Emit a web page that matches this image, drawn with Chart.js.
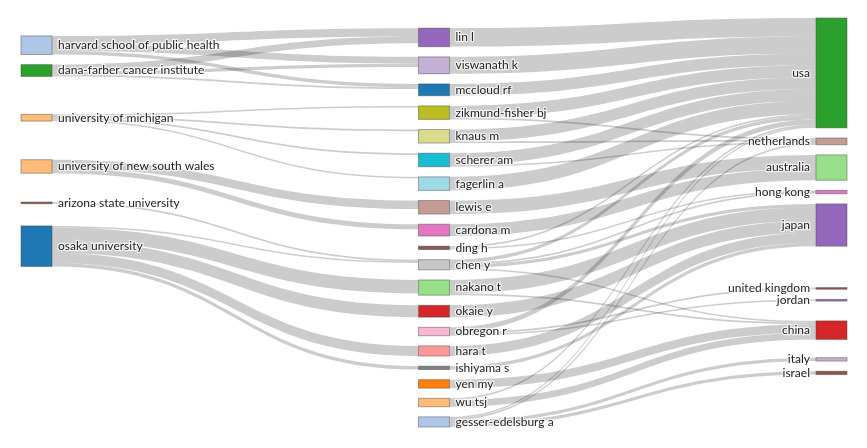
<!DOCTYPE html>
<html>
<head>
<meta charset="utf-8">
<script src="https://cdn.jsdelivr.net/npm/chart.js@4.4.1/dist/chart.umd.min.js"></script>
<style>
  html, body { margin: 0; padding: 0; background: #fff; }
  #wrap { width: 867px; height: 448px; }
</style>
</head>
<body>
<div id="wrap"><canvas id="sankeyChart"></canvas></div>
<script>
// three fields: affiliations -> authors -> countries
const institutions = [
  "harvard school of public health",
  "dana-farber cancer institute",
  "university of michigan",
  "university of new south wales",
  "arizona state university",
  "osaka university"
];
const authors = [
  "lin l", "viswanath k", "mccloud rf", "zikmund-fisher bj", "knaus m",
  "scherer am", "fagerlin a", "lewis e", "cardona m", "ding h", "chen y",
  "nakano t", "okaie y", "obregon r", "hara t", "ishiyama s", "yen my",
  "wu tsj", "gesser-edelsburg a"
];
const countries = [
  "usa", "netherlands", "australia", "hong kong", "japan",
  "united kingdom", "jordan", "china", "italy", "israel"
];

// [from, to, value]
const institutionLinks = [
  ["harvard school of public health", "lin l", 5],
  ["harvard school of public health", "viswanath k", 4],
  ["harvard school of public health", "mccloud rf", 2],
  ["dana-farber cancer institute", "lin l", 4],
  ["dana-farber cancer institute", "viswanath k", 2],
  ["dana-farber cancer institute", "mccloud rf", 1],
  ["university of michigan", "zikmund-fisher bj", 1],
  ["university of michigan", "knaus m", 1],
  ["university of michigan", "scherer am", 1],
  ["university of michigan", "fagerlin a", 1],
  ["university of new south wales", "lewis e", 5],
  ["university of new south wales", "cardona m", 3],
  ["arizona state university", "chen y", 1],
  ["osaka university", "chen y", 1],
  ["osaka university", "nakano t", 8],
  ["osaka university", "okaie y", 7],
  ["osaka university", "hara t", 6],
  ["osaka university", "ishiyama s", 2]
];
const authorLinks = [
  ["lin l", "usa", 11],
  ["viswanath k", "usa", 10],
  ["mccloud rf", "usa", 7],
  ["zikmund-fisher bj", "usa", 7],
  ["zikmund-fisher bj", "netherlands", 1],
  ["knaus m", "usa", 7],
  ["knaus m", "netherlands", 1],
  ["scherer am", "usa", 7],
  ["scherer am", "netherlands", 1],
  ["fagerlin a", "usa", 8],
  ["lewis e", "australia", 8],
  ["cardona m", "australia", 7],
  ["ding h", "usa", 1],
  ["ding h", "hong kong", 1],
  ["chen y", "usa", 2],
  ["chen y", "hong kong", 1],
  ["chen y", "japan", 2],
  ["chen y", "china", 1],
  ["nakano t", "japan", 8],
  ["nakano t", "china", 1],
  ["okaie y", "japan", 7],
  ["obregon r", "usa", 3],
  ["obregon r", "united kingdom", 1],
  ["obregon r", "jordan", 1],
  ["hara t", "japan", 6],
  ["ishiyama s", "japan", 2],
  ["yen my", "china", 5],
  ["wu tsj", "china", 4],
  ["wu tsj", "usa", 1],
  ["gesser-edelsburg a", "italy", 2],
  ["gesser-edelsburg a", "israel", 2],
  ["gesser-edelsburg a", "netherlands", 1],
  ["gesser-edelsburg a", "usa", 1]
];

const institutionColors = ["#aec7e8", "#2ca02c", "#ffbb78", "#ffbb78", "#8c564b", "#1f77b4"];
const authorColors = [
  "#9467bd", "#c5b0d5", "#1f77b4", "#bcbd22", "#dbdb8d", "#17becf", "#9edae5",
  "#c49c94", "#e377c2", "#8c564b", "#c7c7c7", "#98df8a", "#d62728", "#f7b6d2",
  "#ff9896", "#7f7f7f", "#ff7f0e", "#ffbb78", "#aec7e8"
];
const countryColors = [
  "#2ca02c", "#c49c94", "#98df8a", "#e377c2", "#9467bd",
  "#8c564b", "#9467bd", "#d62728", "#c5b0d5", "#8c564b"
];

const NODE_WIDTH = 0.078;             // in x units, one column = 1
const NODE_PAD = 6;                   // in value units
const COLUMN_PULL = [0.6, 0, 0];      // outer nodes relax toward linked nodes
const COLUMN_SETTLE = [0, 0, 0.5];    // nodes with room under the stack sink toward their links

function buildGraph() {
  const fields = [[institutions, institutionColors], [authors, authorColors], [countries, countryColors]];
  const columns = fields.map(([names, colors], c) =>
    names.map((name, i) => ({ name, column: c, color: colors[i], inLinks: [], outLinks: [] })));
  const find = (c, name) => columns[c].find(n => n.name === name);
  const links = [];
  institutionLinks.forEach(([s, t, v]) => links.push({ source: find(0, s), target: find(1, t), value: v }));
  authorLinks.forEach(([s, t, v]) => links.push({ source: find(1, s), target: find(2, t), value: v }));
  links.forEach(l => { l.source.outLinks.push(l); l.target.inLinks.push(l); });
  columns.flat().forEach(n => {
    const sum = arr => arr.reduce((a, l) => a + l.value, 0);
    n.value = Math.max(sum(n.inLinks), sum(n.outLinks));
  });
  return { columns, links };
}

const center = n => (n.y0 + n.y1) / 2;
const shift = (n, dy) => { n.y0 += dy; n.y1 += dy; };

// weighted centre of the nodes a node is linked to
function linkedCenter(n) {
  let s = 0, w = 0;
  n.inLinks.concat(n.outLinks).forEach(l => {
    const other = l.source === n ? l.target : l.source;
    s += center(other) * l.value;
    w += l.value;
  });
  return w ? s / w : center(n);
}

function resolveCollisions(col, yMax) {
  let y = 0;
  col.forEach(n => {
    if (y - n.y0 > 0) shift(n, y - n.y0);
    y = n.y1 + NODE_PAD;
  });
  const last = col[col.length - 1];
  if (last.y1 > yMax) {
    shift(last, yMax - last.y1);
    for (let i = col.length - 2; i >= 0; i--) {
      const dy = col[i].y1 + NODE_PAD - col[i + 1].y0;
      if (dy > 0) shift(col[i], -dy);
    }
  }
}

function settle(col, yMax, amount) {
  const stackBottom = col[col.length - 1].y1;
  for (let i = col.length - 1; i >= 0; i--) {
    const n = col[i];
    const target = linkedCenter(n);
    if (target - n.value / 2 <= stackBottom) continue;
    const limit = i === col.length - 1 ? yMax : col[i + 1].y0 - NODE_PAD;
    const dy = Math.min((target - center(n)) * amount, limit - n.y1);
    if (dy > 0) shift(n, dy);
  }
}

function layout(graph) {
  const extents = graph.columns.map(col =>
    col.reduce((a, n) => a + n.value, 0) + (col.length - 1) * NODE_PAD);
  const yMax = Math.max(...extents) + NODE_PAD;

  graph.columns.forEach(col => {
    let y = 0;
    col.forEach(n => { n.y0 = y; n.y1 = y + n.value; y = n.y1 + NODE_PAD; });
  });
  // the tightest column sits on the bottom edge
  const widest = extents.indexOf(Math.max(...extents));
  graph.columns[widest].forEach(n => shift(n, yMax - extents[widest]));

  graph.columns.forEach((col, c) => {
    if (COLUMN_PULL[c]) {
      col.forEach(n => shift(n, (linkedCenter(n) - center(n)) * COLUMN_PULL[c]));
      resolveCollisions(col, yMax);
    }
    if (COLUMN_SETTLE[c]) settle(col, yMax, COLUMN_SETTLE[c]);
  });

  graph.columns.flat().forEach(n => {
    n.outLinks.sort((a, b) => a.target.y0 - b.target.y0);
    n.inLinks.sort((a, b) => a.source.y0 - b.source.y0);
    let y = n.y0;
    n.outLinks.forEach(l => { l.sy = y; y += l.value; });
    y = n.y0;
    n.inLinks.forEach(l => { l.ty = y; y += l.value; });
  });
  return yMax;
}

const graph = buildGraph();
const yMax = layout(graph);

const sankeyPlugin = {
  id: "sankey",
  afterDatasetsDraw(chart) {
    const { ctx, scales: { x, y } } = chart;
    ctx.save();

    // links
    ctx.fillStyle = "rgba(0,0,0,0.2)";
    graph.links.forEach(l => {
      const x0 = x.getPixelForValue(l.source.column + NODE_WIDTH);
      const x1 = x.getPixelForValue(l.target.column);
      const xm = (x0 + x1) / 2;
      const s0 = y.getPixelForValue(l.sy), s1 = y.getPixelForValue(l.sy + l.value);
      const t0 = y.getPixelForValue(l.ty), t1 = y.getPixelForValue(l.ty + l.value);
      ctx.beginPath();
      ctx.moveTo(x0, s0);
      ctx.bezierCurveTo(xm, s0, xm, t0, x1, t0);
      ctx.lineTo(x1, t1);
      ctx.bezierCurveTo(xm, t1, xm, s1, x0, s1);
      ctx.closePath();
      ctx.fill();
    });

    // nodes
    graph.columns.flat().forEach(n => {
      const left = x.getPixelForValue(n.column);
      const right = x.getPixelForValue(n.column + NODE_WIDTH);
      const top = y.getPixelForValue(n.y0);
      const bottom = y.getPixelForValue(n.y1);
      ctx.fillStyle = n.color;
      ctx.fillRect(left, top, right - left, bottom - top);
      ctx.strokeStyle = "rgba(68,68,68,0.45)";
      ctx.lineWidth = 1;
      ctx.strokeRect(left, top, right - left, bottom - top);
    });

    // labels
    ctx.font = "12px Lato";
    ctx.textBaseline = "middle";
    ctx.lineJoin = "round";
    graph.columns.flat().forEach(n => {
      const isLast = n.column === 2;
      const tx = isLast ? x.getPixelForValue(n.column) - 6 : x.getPixelForValue(n.column + NODE_WIDTH) + 6;
      const ty = y.getPixelForValue(center(n));
      ctx.textAlign = isLast ? "right" : "left";
      ctx.strokeStyle = "rgba(255,255,255,0.75)";
      ctx.lineWidth = 2.5;
      ctx.strokeText(n.name, tx, ty);
      ctx.fillStyle = "#222";
      ctx.fillText(n.name, tx, ty);
    });
    ctx.restore();
  }
};

new Chart(document.getElementById("sankeyChart"), {
  type: "scatter",
  data: { datasets: [] },
  options: {
    responsive: true,
    maintainAspectRatio: false,
    animation: false,
    layout: { padding: { left: 21, right: 20, top: 18, bottom: 21 } },
    plugins: { legend: { display: false }, tooltip: { enabled: false } },
    scales: {
      x: { type: "linear", display: false, min: 0, max: 2 + NODE_WIDTH },
      y: { type: "linear", display: false, min: 0, max: yMax, reverse: true }
    }
  },
  plugins: [sankeyPlugin]
});
</script>
</body>
</html>
